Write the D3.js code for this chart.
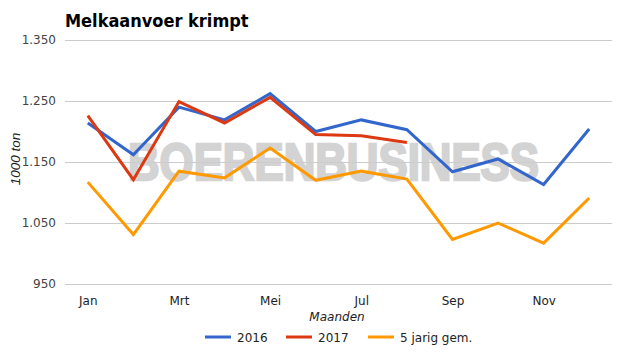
<!DOCTYPE html>
<html>
<head>
<meta charset="utf-8">
<script src="https://cdn.jsdelivr.net/npm/d3@7"></script>
<style>
  body { margin: 0; background: #fff; }
  #chart { width: 625px; height: 355px; }
</style>
</head>
<body>
<div id="chart"></div>
<script>
/* DATA */
var months = ["Jan", "Feb", "Mrt", "Apr", "Mei", "Jun", "Jul", "Aug", "Sep", "Okt", "Nov", "Dec"];
var shownMonths = ["Jan", "Mrt", "Mei", "Jul", "Sep", "Nov"];
var yTicks = [950, 1050, 1150, 1250, 1350];
var seriesNames = ["2016", "2017", "5 jarig gem."];
var values2016 = [1214, 1162, 1240, 1219, 1262, 1200, 1219, 1203, 1134, 1155, 1113, 1204];
var values2017 = [1226, 1121, 1249, 1214, 1256, 1195, 1193, 1182];
var values5yr = [1117, 1031, 1135, 1124, 1173, 1120, 1135, 1122, 1023, 1050, 1017, 1091];
var colors = ["#3366cc", "#dc3912", "#ff9900"];

var width = 625, height = 355;
var margin = {left: 65, right: 13, top: 40, bottom: 71};

var svg = d3.select("#chart").append("svg")
    .attr("width", width)
    .attr("height", height);

var x = d3.scalePoint()
    .domain(months)
    .range([margin.left, width - margin.right])
    .padding(0.5);

var y = d3.scaleLinear()
    .domain([950, 1350])
    .range([height - margin.bottom, margin.top]);

/* TITLE */
svg.append("text")
    .attr("x", 65)
    .attr("y", 27)
    .attr("font-family", "DejaVu Sans Condensed, DejaVu Sans")
    .attr("font-stretch", "condensed")
    .attr("font-weight", "bold")
    .attr("font-size", 18)
    .attr("fill", "#000")
    .text("Melkaanvoer krimpt");

/* WATERMARK (under the gridlines) */
svg.append("text")
    .attr("x", 128)
    .attr("y", 180)
    .attr("font-family", "Liberation Sans")
    .attr("font-weight", "bold")
    .attr("font-size", 52)
    .attr("textLength", 411)
    .attr("lengthAdjust", "spacingAndGlyphs")
    .attr("fill", "#d3d3d3")
    .attr("stroke", "#d3d3d3")
    .attr("stroke-width", 2.5)
    .text("BOERENBUSINESS");

/* GRIDLINES + Y AXIS */
var yAxis = d3.axisLeft(y)
    .tickValues(yTicks)
    .tickSize(-(width - margin.left - margin.right))
    .tickPadding(9)
    .tickFormat(function(d) { return d3.format(",")(d).replace(",", "."); });

var gy = svg.append("g")
    .attr("transform", "translate(" + margin.left + ",0)")
    .call(yAxis);
gy.select(".domain").remove();
gy.selectAll("line").attr("stroke", "#cccccc");
gy.selectAll("text")
    .attr("font-family", "DejaVu Sans")
    .attr("font-size", 12)
    .attr("fill", "#444");

/* X AXIS */
var xAxis = d3.axisBottom(x)
    .tickValues(shownMonths)
    .tickSize(0)
    .tickPadding(12);

var gx = svg.append("g")
    .attr("transform", "translate(0," + (height - margin.bottom) + ")")
    .call(xAxis);
gx.select(".domain").remove();
gx.selectAll("text")
    .attr("font-family", "DejaVu Sans")
    .attr("font-size", 12)
    .attr("fill", "#222");

/* AXIS TITLES */
svg.append("text")
    .attr("x", 337)
    .attr("y", 321)
    .attr("text-anchor", "middle")
    .attr("font-family", "DejaVu Sans")
    .attr("font-style", "italic")
    .attr("font-size", 12)
    .attr("fill", "#222")
    .text("Maanden");

svg.append("text")
    .attr("transform", "translate(20,159) rotate(-90)")
    .attr("text-anchor", "middle")
    .attr("font-family", "Liberation Sans")
    .attr("font-style", "italic")
    .attr("font-size", 13.5)
    .attr("fill", "#222")
    .text("1000 ton");

/* LINES */
var line = d3.line()
    .x(function(d, i) { return x(months[i]); })
    .y(function(d) { return y(d); });

[values2016, values2017, values5yr].forEach(function(s, i) {
    svg.append("path")
        .datum(s)
        .attr("fill", "none")
        .attr("stroke", colors[i])
        .attr("stroke-width", 3)
        .attr("d", line);
});

/* LEGEND */
var legendX = [205, 286, 368];
var legend = svg.selectAll(".legend")
    .data(seriesNames)
    .enter()
    .append("g")
    .attr("class", "legend")
    .attr("transform", function(d, i) { return "translate(" + legendX[i] + ",337)"; });

legend.append("line")
    .attr("x1", 0).attr("x2", 26)
    .attr("y1", 0).attr("y2", 0)
    .attr("stroke", function(d, i) { return colors[i]; })
    .attr("stroke-width", 3);

legend.append("text")
    .attr("x", 32)
    .attr("y", 4.5)
    .attr("font-family", "DejaVu Sans")
    .attr("font-size", 12)
    .attr("fill", "#222")
    .text(function(d) { return d; });
</script>
</body>
</html>
